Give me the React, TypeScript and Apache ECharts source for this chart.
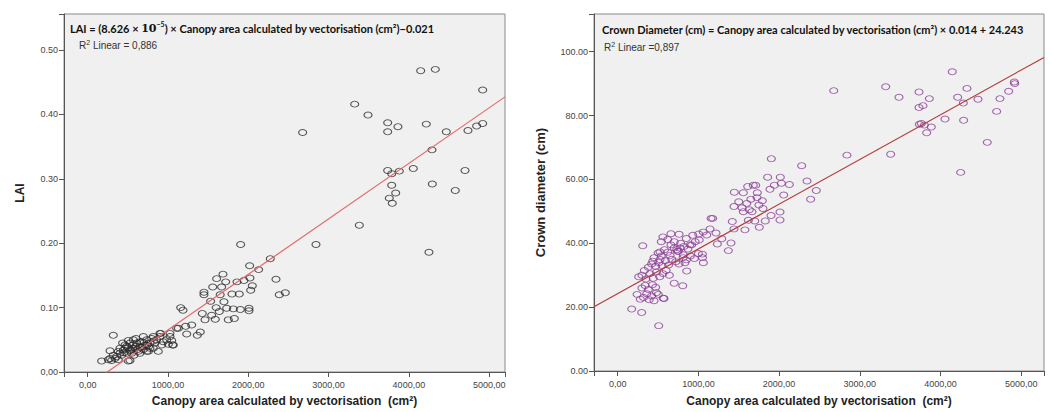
import React, { useEffect, useRef } from "react";
import * as echarts from "echarts";

// ---- Data ----
// Left panel: canopy area (cm²) vs LAI
const laiPoints: [number, number][] = [
  [4147, 0.468], [4329, 0.470], [4919, 0.438], [3325, 0.416], [3491, 0.399], [2677, 0.372],
  [3736, 0.387], [3736, 0.373], [3864, 0.381], [4217, 0.385], [4466, 0.373], [4736, 0.375],
  [4844, 0.382], [4919, 0.386], [4288, 0.345], [3736, 0.313], [3786, 0.308], [3881, 0.312],
  [4055, 0.316], [4699, 0.313], [3786, 0.290], [4292, 0.292], [4578, 0.282], [3836, 0.278],
  [3756, 0.270], [3793, 0.262], [3383, 0.228], [2843, 0.198], [4250, 0.186],
  [1905, 0.198], [2274, 0.176], [2129, 0.159], [2017, 0.165], [2345, 0.144], [2386, 0.120],
  [2461, 0.123], [2021, 0.146], [1946, 0.142], [1859, 0.140], [2050, 0.134], [2030, 0.127],
  [1685, 0.152], [1606, 0.145], [1719, 0.140], [1668, 0.132], [1557, 0.132], [1448, 0.124],
  [1448, 0.120], [1797, 0.121], [1888, 0.121], [1531, 0.110], [1697, 0.109], [1814, 0.098],
  [1901, 0.097], [2009, 0.099], [2009, 0.095], [1427, 0.091], [1544, 0.088], [1639, 0.094],
  [1589, 0.082], [1461, 0.081], [1751, 0.081], [1826, 0.083], [1731, 0.099], [1158, 0.100],
  [1187, 0.096], [1108, 0.068], [1220, 0.071], [1295, 0.073], [1233, 0.059], [1365, 0.057],
  [1402, 0.062], [909, 0.060], [1025, 0.055], [1066, 0.042], [1046, 0.049], [1129, 0.068],
  [1650, 0.120], [1600, 0.100],
  [174, 0.017], [506, 0.017], [319, 0.057], [278, 0.021], [299, 0.018], [319, 0.026],
  [278, 0.033], [361, 0.024], [381, 0.032], [402, 0.037], [423, 0.026], [443, 0.034],
  [465, 0.042], [486, 0.029], [506, 0.038], [506, 0.049], [527, 0.018], [535, 0.034],
  [560, 0.042], [577, 0.026], [589, 0.037], [610, 0.045], [631, 0.032], [651, 0.039],
  [672, 0.047], [693, 0.035], [714, 0.042], [735, 0.050], [755, 0.032], [776, 0.045],
  [797, 0.052], [817, 0.037], [838, 0.045], [859, 0.050], [879, 0.032], [900, 0.055],
  [922, 0.042], [941, 0.047], [984, 0.050], [1004, 0.043], [1025, 0.060], [1058, 0.042],
  [900, 0.060], [817, 0.055], [735, 0.042], [651, 0.047], [568, 0.050], [527, 0.045],
  [465, 0.037], [402, 0.029], [340, 0.021], [257, 0.019], [381, 0.019], [651, 0.029],
  [735, 0.032], [693, 0.055], [776, 0.037], [601, 0.052], [548, 0.029], [435, 0.045],
  [486, 0.040], [672, 0.039], [600, 0.040], [700, 0.046], [760, 0.040], [820, 0.048],
  [450, 0.030], [520, 0.033], [560, 0.036], [620, 0.035],
];

// Right panel: canopy area (cm²) vs crown diameter (cm)
const crownPoints: [number, number][] = [
  [4146, 93.7], [2677, 87.8], [3321, 89.0], [3486, 85.7], [3734, 87.4], [3862, 85.3],
  [3734, 82.5], [3783, 83.1], [4328, 88.5], [4213, 85.7], [4283, 83.9], [4465, 85.1],
  [4737, 85.3], [4845, 87.6], [4915, 90.5], [4920, 90.0], [4696, 81.3], [3738, 77.3],
  [3763, 77.5], [3800, 77.0], [3886, 76.4], [3829, 74.6], [4056, 78.9], [4287, 78.5],
  [4580, 71.6], [2841, 67.6], [3383, 67.9], [4250, 62.2],
  [1904, 66.5], [2280, 64.3], [2346, 59.5], [2461, 56.5], [2391, 53.8], [1858, 60.7],
  [2015, 60.7], [1941, 58.2], [2028, 58.8], [2127, 58.4], [1887, 56.9], [2057, 55.1],
  [2011, 49.8], [2011, 47.3], [1900, 48.7], [1829, 47.0], [1755, 45.0], [1792, 53.3],
  [1800, 50.9], [1680, 58.2], [1710, 58.2], [1611, 57.8], [1557, 55.8], [1730, 55.8],
  [1726, 54.3], [1445, 56.0], [1441, 51.5], [1540, 51.1], [1557, 49.9], [1631, 50.5],
  [1664, 49.9], [1698, 47.0], [1619, 47.2], [1441, 44.5], [1577, 44.2], [1420, 46.8],
  [1500, 53.0], [1600, 52.5], [1750, 52.0], [1650, 53.8],
  [1177, 47.8], [1157, 47.8], [1144, 44.5], [1103, 42.6], [1218, 43.2], [1289, 41.4],
  [1003, 42.9], [1235, 39.8], [1404, 40.1], [1371, 37.7], [1060, 43.5], [1010, 41.0],
  [917, 39.5], [1049, 36.6], [1061, 33.9], [855, 31.3], [813, 36.4], [834, 33.9],
  [731, 38.0], [772, 38.5], [648, 36.2], [524, 37.3], [310, 39.2], [434, 34.4],
  [524, 34.9], [806, 26.7], [173, 19.4], [297, 18.3], [508, 14.2], [574, 22.7],
  [240, 24.0], [280, 22.5], [320, 23.0], [360, 24.2], [390, 22.3], [420, 23.5],
  [450, 22.0], [480, 24.5], [300, 26.0], [340, 26.8], [380, 25.5], [430, 27.0],
  [470, 26.2], [565, 22.8], [503, 24.0],
  [260, 29.5], [300, 30.0], [350, 28.8], [400, 30.5], [440, 29.0], [480, 31.0],
  [520, 29.5], [560, 30.5], [600, 31.5], [640, 30.0], [700, 27.5],
  [330, 31.5], [380, 32.5], [420, 33.5], [470, 32.8], [510, 34.0], [550, 33.0],
  [590, 34.5], [630, 33.2], [670, 35.0], [720, 34.2], [760, 33.5], [810, 35.5],
  [850, 34.8], [900, 36.0], [950, 35.2], [1000, 36.8], [1050, 35.5],
  [450, 35.5], [500, 37.0], [540, 36.0], [580, 38.0], [620, 37.2], [660, 39.5],
  [700, 38.5], [740, 37.5], [780, 40.0], [820, 39.0], [870, 38.2], [960, 40.5],
  [700, 40.5], [620, 41.2], [560, 42.0], [760, 42.8], [540, 40.5], [660, 43.0],
  [850, 41.5], [930, 42.5], [896, 39.5], [751, 37.5],
];

// Fitted equations shown in the panels
const laiFit = { slope: 8.626e-5, intercept: -0.021 };
const crownFit = { slope: 0.014, intercept: 24.243 };

// Axis extents
const leftX = { min: -295, max: 5197 };
const leftY = { min: 0, max: 0.556, interval: 0.1 };
const rightX = { min: -294, max: 5283 };
const rightY = { min: 0, max: 111.8, interval: 20 };

const xTitle = "Canopy area calculated by vectorisation  (cm²)";

function fitLine(fit: { slope: number; intercept: number }, ext: { min: number; max: number }) {
  return [ext.min, ext.max].map((x) => [x, fit.slope * x + fit.intercept]);
}

const isMultiple = (v: number, step: number) => Math.abs(v / step - Math.round(v / step)) < 1e-6;

export default function App() {
  const ref = useRef<HTMLDivElement>(null);

  useEffect(() => {
    if (!ref.current) return;
    const chart = echarts.init(ref.current, undefined, { renderer: "svg" });

    const tickLabel = { fontFamily: "Arial, 'Liberation Sans'", fontSize: 9, color: "#444" };
    const nameStyle = { fontFamily: "Arial, 'Liberation Sans'", fontSize: 12, fontWeight: "bold" as const, color: "#222" };
    const axisLine = { show: true, onZero: false, lineStyle: { color: "#555", width: 1 } };
    const axisTick = { show: true, length: 5, lineStyle: { color: "#555" } };

    const xFmt = (v: number) => (isMultiple(v, 1000) ? v.toFixed(2).replace(".", ",") : "");

    const titleRich = {
      b: { fontFamily: "Lato", fontWeight: "bold", fontSize: 11, fill: "#111", lineHeight: 14, verticalAlign: "bottom" },
      m: { fontFamily: "'DejaVu Serif'", fontWeight: "bold", fontSize: 11, fill: "#111", lineHeight: 14, verticalAlign: "bottom" },
      s: { fontFamily: "Lato", fontWeight: "bold", fontSize: 7, fill: "#111", lineHeight: 14, verticalAlign: "top" },
    };
    const r2Rich = { s: { fontFamily: "Arial, 'Liberation Sans'", fontSize: 7, fill: "#333", verticalAlign: "top", lineHeight: 12 } };

    const option: echarts.EChartsOption = {
      animation: false,
      backgroundColor: "#fff",
      grid: [
        { left: 64, top: 14, width: 441, height: 358, show: true, backgroundColor: "#f0f0f0", borderColor: "#8a8a8a", borderWidth: 1 },
        { left: 594, top: 14, width: 450, height: 360, show: true, backgroundColor: "#f0f0f0", borderColor: "#8a8a8a", borderWidth: 1 },
      ],
      xAxis: [
        {
          type: "value", gridIndex: 0, min: leftX.min, max: leftX.max, splitNumber: 5,
          axisLine, axisTick, splitLine: { show: false },
          axisLabel: { ...tickLabel, margin: 8, formatter: xFmt },
          name: xTitle, nameLocation: "middle", nameGap: 23, nameTextStyle: nameStyle,
        },
        {
          type: "value", gridIndex: 1, min: rightX.min, max: rightX.max, splitNumber: 5,
          axisLine, axisTick, splitLine: { show: false },
          axisLabel: { ...tickLabel, margin: 8, formatter: xFmt },
          name: xTitle, nameLocation: "middle", nameGap: 24, nameTextStyle: nameStyle,
        },
      ],
      yAxis: [
        {
          type: "value", gridIndex: 0, min: leftY.min, max: leftY.max, interval: leftY.interval,
          axisLine, axisTick, splitLine: { show: false },
          axisLabel: {
            ...tickLabel, margin: 6,
            formatter: (v: number) => (isMultiple(v, 0.1) ? (v === 0 ? "0,00" : v.toFixed(2)) : ""),
          },
          name: "LAI", nameLocation: "middle", nameGap: 38, nameTextStyle: nameStyle,
        },
        {
          type: "value", gridIndex: 1, min: rightY.min, max: rightY.max, interval: rightY.interval,
          axisLine, axisTick, splitLine: { show: false },
          axisLabel: {
            ...tickLabel, margin: 6,
            formatter: (v: number) => (isMultiple(v, 20) ? v.toFixed(2) : ""),
          },
          name: "Crown diameter (cm)", nameLocation: "middle", nameGap: 47,
          nameTextStyle: { ...nameStyle, fontSize: 13 },
        },
      ],
      series: [
        {
          type: "scatter", xAxisIndex: 0, yAxisIndex: 0, data: laiPoints,
          symbol: "circle", symbolSize: [8, 6],
          itemStyle: { color: "transparent", borderColor: "#2a2a2a", borderWidth: 1 },
          silent: true,
        },
        {
          type: "line", xAxisIndex: 0, yAxisIndex: 0, data: fitLine(laiFit, leftX),
          showSymbol: false, clip: true, lineStyle: { color: "#e36a68", width: 1.2 }, silent: true,
        },
        {
          type: "scatter", xAxisIndex: 1, yAxisIndex: 1, data: crownPoints,
          symbol: "circle", symbolSize: [8, 6],
          itemStyle: { color: "transparent", borderColor: "#8a3d96", borderWidth: 1 },
          silent: true,
        },
        {
          type: "line", xAxisIndex: 1, yAxisIndex: 1, data: fitLine(crownFit, rightX),
          showSymbol: false, clip: true, lineStyle: { color: "#b23c3a", width: 1.2 }, silent: true,
        },
      ],
      graphic: [
        {
          type: "text", x: 70, y: 27,
          style: {
            text: "{b|LAI = (8.626 × }{m|10}{s|−5}{b|) × Canopy area calculated by vectorisation (cm²)−0.021}",
            verticalAlign: "middle",
            rich: titleRich,
          },
        },
        {
          type: "text", x: 79, y: 45,
          style: {
            text: "R{s|2} Linear = 0,886",
            fontFamily: "Arial, 'Liberation Sans'", fontSize: 10, fill: "#333", verticalAlign: "middle",
            rich: r2Rich,
          },
        },
        {
          type: "text", x: 602, y: 28,
          style: {
            text: "{b|Crown Diameter (cm) = Canopy area calculated by vectorisation (cm²) × 0.014 + 24.243}",
            verticalAlign: "middle",
            rich: titleRich,
          },
        },
        {
          type: "text", x: 604, y: 47,
          style: {
            text: "R{s|2} Linear =0,897",
            fontFamily: "Arial, 'Liberation Sans'", fontSize: 10, fill: "#333", verticalAlign: "middle",
            rich: r2Rich,
          },
        },
      ],
    };

    chart.setOption(option);
    return () => chart.dispose();
  }, []);

  return (
    <div
      ref={ref}
      style={{ position: "fixed", left: 0, top: 0, width: 1052, height: 412, background: "#fff" }}
    />
  );
}
